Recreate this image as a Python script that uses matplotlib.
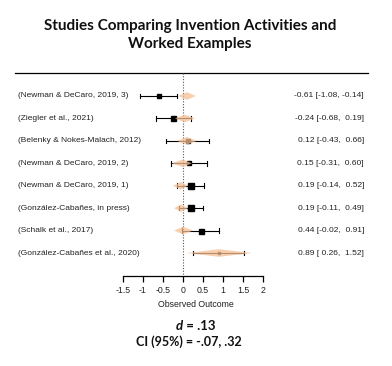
import matplotlib
matplotlib.use("Agg")
import matplotlib.pyplot as plt
from matplotlib.transforms import blended_transform_factory

studies = ["(Newman & DeCaro, 2019, 3)", "(Ziegler et al., 2021)",
           "(Belenky & Nokes-Malach, 2012)", "(Newman & DeCaro, 2019, 2)",
           "(Newman & DeCaro, 2019, 1)", "(González-Cabañes, in press)",
           "(Schalk et al., 2017)", "(González-Cabañes et al., 2020)"]
est = [-0.61, -0.24, 0.12, 0.15, 0.19, 0.19, 0.44, 0.89]
ci_lo = [-1.08, -0.68, -0.43, -0.31, -0.14, -0.11, -0.02, 0.26]
ci_hi = [-0.14, 0.19, 0.66, 0.60, 0.52, 0.49, 0.91, 1.52]
weights = [3.0, 3.6, 2.3, 3.0, 4.6, 4.6, 3.6, 1.6]  # square sizes
# light orange overlay diamonds (center, lower, upper)
dia_c = [0.10, 0.05, 0.10, 0.00, -0.05, -0.05, 0.00, 0.90]
dia_lo = [-0.12, -0.20, -0.15, -0.28, -0.25, -0.22, -0.22, 0.10]
dia_hi = [0.32, 0.30, 0.35, 0.22, 0.12, 0.12, 0.25, 1.72]
ticks = [-1.5, -1, -0.5, 0, 0.5, 1, 1.5, 2]
tick_labels = ["-1.5", "-1", "-0.5", "0", "0.5", "1", "1.5", "2"]
title = "Studies Comparing Invention Activities and\nWorked Examples"
summary_d = " = .13"
summary_ci = "CI (95%) = -.07, .32"

W, H = 392, 366
fig = plt.figure(figsize=(W / 100, H / 100), dpi=100)
top_px, bot_px = 73, 276
ax = fig.add_axes([0, 1 - bot_px / H, 1, (bot_px - top_px) / H])
ax.set_xlim(-183 / 40, (W - 183) / 40)
n = len(studies)
ax.set_ylim(n + 1.025, -0.025)
ax.set_facecolor("none")

for s in ["top", "right", "left"]:
    ax.spines[s].set_visible(False)
ax.spines["bottom"].set_bounds(-1.5, 2)
ax.spines["bottom"].set_linewidth(0.9)
ax.set_yticks([])
ax.set_xticks(ticks)
ax.set_xticklabels(tick_labels, fontsize=6.3, family="Liberation Sans", color="#222222")
ax.tick_params(axis="x", direction="out", length=4, width=0.9, pad=3)
ax.set_xlabel("Observed Outcome", fontsize=6.3, family="Liberation Sans",
              color="#222222", labelpad=4)

# top line
tr = blended_transform_factory(fig.transFigure, ax.transAxes)
ax.plot([15 / W, 368 / W], [1, 1], transform=tr, color="black", lw=0.9, clip_on=False)

# dotted zero line
ax.plot([0, 0], [-0.025, n + 1.025], color="#555555", lw=0.8, ls=(0, (1, 1.5)))

ys = list(range(1, n + 1))
for i, y in enumerate(ys):
    ax.plot([ci_lo[i], ci_hi[i]], [y, y], color="black", lw=0.8, zorder=3)
    for xv in (ci_lo[i], ci_hi[i]):
        ax.plot([xv, xv], [y - 0.1, y + 0.1], color="black", lw=0.8, zorder=3)
    ax.plot(est[i], y, marker="s", ms=weights[i], color="black", zorder=4)
    h = 0.17
    ax.fill([dia_lo[i], dia_c[i], dia_hi[i], dia_c[i]], [y, y - h, y, y + h],
            color="#F5BE93", alpha=0.75, lw=0, zorder=5)
    ax.text(-4.125, y, studies[i], ha="left", va="center", fontsize=6.0,
            family="Liberation Sans", color="#222222")
    ax.text(4.525, y, f"{est[i]:.2f} [{ci_lo[i]:5.2f}, {ci_hi[i]:5.2f}]",
            ha="right", va="center", fontsize=6.0, family="Liberation Sans",
            color="#222222")

fig.text(190 / W, 1 - 35 / H, title, ha="center", va="center", fontsize=11,
         family="Lato", weight="bold", linespacing=1.45, color="#111111")

td = fig.text(176 / W, 1 - 326 / H, "d", ha="left", va="center", fontsize=9.5,
              family="Lato", weight="bold", style="italic", color="#111111")
ax.annotate(summary_d, xy=(1, 0), xycoords=td, ha="left", va="bottom",
            fontsize=9.5, family="Lato", weight="bold", color="#111111",
            annotation_clip=False)
fig.text(189 / W, 1 - 342 / H, summary_ci, ha="center", va="center", fontsize=9,
         family="Lato", weight="bold", color="#111111")

fig.savefig("out.png", dpi=100)
